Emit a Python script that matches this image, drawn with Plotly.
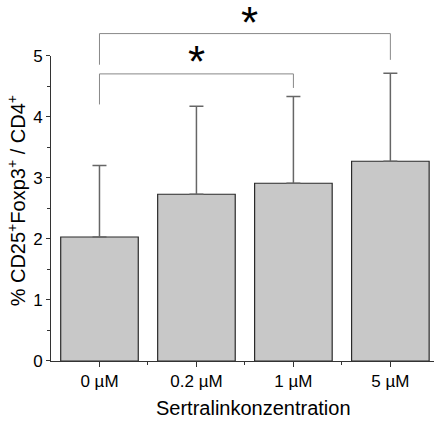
import plotly.graph_objects as go

# Sertraline concentrations and the measured Treg fraction (mean + SD)
categories = ["0 µM", "0.2 µM", "1 µM", "5 µM"]
means = [2.03, 2.73, 2.91, 3.27]
sd_upper = [1.17, 1.44, 1.42, 1.44]

# Significance brackets: (left group, right group, bar height, left leg end, right leg end)
brackets = [
    (0, 2, 4.70, 4.20, 4.47),
    (0, 3, 5.36, 4.85, 4.93),
]
star_x = [1.0, 1.55]
star_y = [4.88, 5.52]

x_pos = list(range(len(categories)))
FONT = "Liberation Sans, Arial, sans-serif"

fig = go.Figure()
fig.add_trace(go.Bar(
    x=x_pos, y=means, width=0.8,
    marker=dict(color="#c8c8c8", line=dict(color="#2a2a2a", width=1.2)),
    error_y=dict(type="data", symmetric=False, array=sd_upper,
                 arrayminus=[0] * len(means), color="#666666",
                 thickness=1.5, width=7),
    xaxis="x", yaxis="y",
))

# bracket lines live on an auxiliary axis that extends above the value axis
ymax = 5.0
frac = 0.8677
for (a, b, top, la, lb) in brackets:
    fig.add_shape(type="line", xref="x", yref="y2", x0=a, x1=a, y0=la, y1=top,
                  line=dict(color="#888888", width=1))
    fig.add_shape(type="line", xref="x", yref="y2", x0=a, x1=b, y0=top, y1=top,
                  line=dict(color="#888888", width=1))
    fig.add_shape(type="line", xref="x", yref="y2", x0=b, x1=b, y0=top, y1=lb,
                  line=dict(color="#888888", width=1))
for sx, sy in zip(star_x, star_y):
    fig.add_annotation(x=sx, y=sy, xref="x", yref="y2", text="*",
                       showarrow=False, yanchor="middle", yshift=1,
                       borderpad=0,
                       font=dict(family=FONT, size=44, color="black"))

# axis titles
fig.add_annotation(x=0.53, y=-0.133, xref="paper", yref="paper",
                   text="Sertralinkonzentration", showarrow=False,
                   xanchor="center", yanchor="middle",
                   font=dict(family=FONT, size=20, color="black"))
fig.add_annotation(x=-0.09, y=0.455, xref="paper", yref="paper",
                   text="% CD25<sup>+</sup>Foxp3<sup>+</sup> / CD4<sup>+</sup>",
                   showarrow=False, textangle=-90,
                   xanchor="center", yanchor="middle",
                   font=dict(family=FONT, size=20, color="black"))

fig.update_layout(
    width=434, height=421,
    margin=dict(l=51, r=0, t=0, b=60),
    plot_bgcolor="rgba(0,0,0,0)", paper_bgcolor="white",
    showlegend=False,
    font=dict(family=FONT, size=17, color="black"),
    xaxis=dict(
        range=[-0.5, 3.45], anchor="y",
        tickmode="array", tickvals=x_pos, ticktext=categories,
        ticks="outside", ticklen=5, tickwidth=1, tickcolor="#333333",
        minor=dict(tickvals=[0.5, 1.5, 2.5], ticks="outside", ticklen=3,
                   tickcolor="#333333", showgrid=False),
        showline=True, linecolor="#333333", linewidth=1,
        showgrid=False, zeroline=False,
    ),
    yaxis=dict(
        range=[0, ymax], domain=[0, frac],
        tickmode="linear", tick0=0, dtick=1,
        ticks="outside", ticklen=4, tickwidth=1, tickcolor="#333333",
        minor=dict(dtick=0.5, ticks="outside", ticklen=3, tickcolor="#333333",
                   showgrid=False),
        showline=True, linecolor="#333333", linewidth=1,
        showgrid=False, zeroline=False,
    ),
    yaxis2=dict(range=[0, ymax / frac], domain=[0, 1], anchor="x",
                visible=False, showgrid=False, zeroline=False),
)

fig.write_html("out.html")
